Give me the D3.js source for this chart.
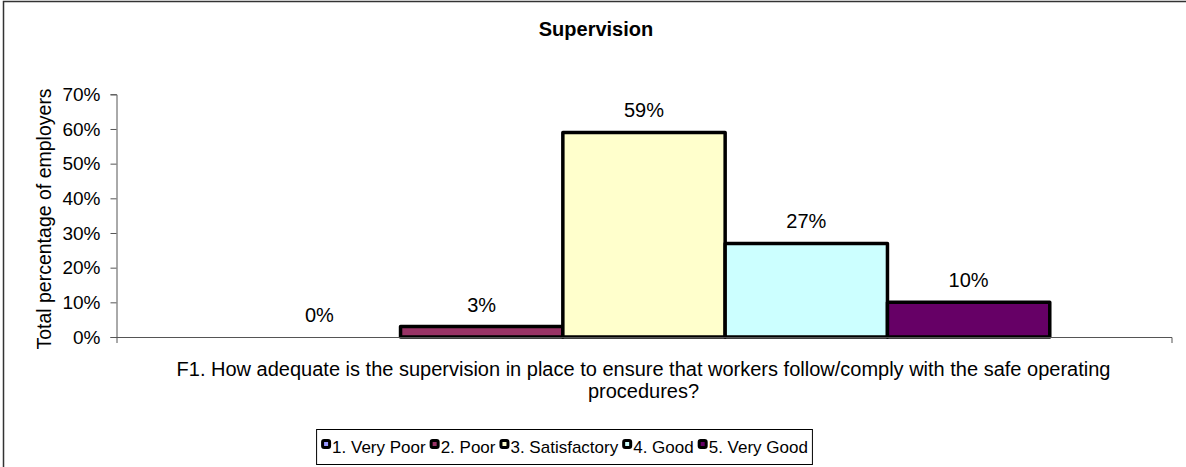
<!DOCTYPE html>
<html>
<head>
<meta charset="utf-8">
<script src="https://cdn.jsdelivr.net/npm/d3@7"></script>
<style>
  body { margin: 0; background: #fff; }
  text { font-family: Arial, "Liberation Sans", sans-serif; fill: #000; }
</style>
</head>
<body>
<div id="chart"></div>
<script>
const title = 'Supervision';
const question = ['F1. How adequate is the supervision in place to ensure that workers follow/comply with the safe operating', 'procedures?'];
const ratings = ['1. Very Poor', '2. Poor', '3. Satisfactory', '4. Good', '5. Very Good'];
const values = [0, 0.03, 0.59, 0.27, 0.10];
const colors = ['#9999ff', '#993366', '#ffffcc', '#ccffff', '#660066'];
const yTicks = [0, 0.1, 0.2, 0.3, 0.4, 0.5, 0.6, 0.7];

const width = 1186, height = 467;
const svg = d3.select('#chart').append('svg')
  .attr('width', width)
  .attr('height', height);

// outer chart border (right/bottom edges fall off the picture)
svg.append('rect')
  .attr('x', 3.5).attr('y', 1.5)
  .attr('width', 1190).attr('height', 480)
  .attr('fill', 'none').attr('stroke', '#333').attr('stroke-width', 1.5);

const plot = {left: 116.5, right: 1171.5, top: 94.3, bottom: 337};

const y = d3.scaleLinear().domain([0, 0.7]).range([plot.bottom, plot.top]);
const x0 = d3.scaleBand().domain(['F1']).range([plot.left, plot.right]);
const x1 = d3.scaleBand().domain(ratings).range([0, x0.bandwidth()]).paddingOuter(0.75);

svg.append('text')
  .attr('x', 596).attr('y', 36)
  .attr('text-anchor', 'middle')
  .style('font-size', '20px').style('font-weight', 'bold')
  .text(title);

// y axis
const yAxis = svg.append('g')
  .attr('transform', `translate(${plot.left},0)`)
  .call(d3.axisLeft(y).tickValues(yTicks).tickFormat(d3.format('.0%')).tickSizeOuter(0).tickSize(6).tickPadding(10));
yAxis.select('.domain').attr('stroke', '#555');
yAxis.selectAll('.tick line').attr('stroke', '#555');
yAxis.selectAll('.tick text')
  .style('font-size', '19px').style('font-family', 'Arial, "Liberation Sans", sans-serif');

svg.append('text')
  .attr('transform', `translate(44,219) rotate(-90)`)
  .attr('text-anchor', 'middle')
  .attr('dy', '0.35em')
  .style('font-size', '19.5px')
  .text('Total percentage of employers');

// bars
const g = svg.append('g').attr('transform', `translate(${x0('F1')},0)`);
g.selectAll('rect.bar')
  .data(values)
  .join('rect')
  .attr('class', 'bar')
  .attr('x', (d, i) => x1(ratings[i]))
  .attr('y', d => y(d))
  .attr('width', x1.bandwidth())
  .attr('height', d => y(0) - y(d))
  .attr('fill', (d, i) => colors[i])
  .attr('stroke', '#000')
  .attr('stroke-width', d => d > 0 ? 3.5 : 0)
  .attr('stroke-linejoin', 'round');

g.selectAll('text.lbl')
  .data(values)
  .join('text')
  .attr('class', 'lbl')
  .attr('x', (d, i) => x1(ratings[i]) + x1.bandwidth() / 2)
  .attr('y', d => y(d) - 15)
  .attr('text-anchor', 'middle')
  .style('font-size', '20px')
  .text(d => d3.format('.0%')(d));

// x axis
const xAxis = svg.append('g')
  .attr('transform', `translate(0,${plot.bottom})`)
  .call(d3.axisBottom(x0).tickValues([]).tickSizeOuter(6));
xAxis.select('.domain').attr('stroke', '#555');

svg.selectAll('text.cat')
  .data(question)
  .join('text')
  .attr('class', 'cat')
  .attr('x', 643.5)
  .attr('y', (d, i) => 376 + i * 22)
  .attr('text-anchor', 'middle')
  .style('font-size', '20px')
  .text(d => d);

// legend
const legend = svg.append('g');
const items = legend.selectAll('g.item')
  .data(ratings)
  .join('g')
  .attr('class', 'item');
items.append('rect')
  .attr('width', 7).attr('height', 7)
  .attr('x', 1.5).attr('y', -12.5)
  .attr('fill', (d, i) => colors[i])
  .attr('stroke', '#000').attr('stroke-width', 3)
  .attr('rx', 1.5);
items.append('text')
  .attr('x', 11)
  .style('font-size', '17px')
  .text(d => d);
let cx = 0;
items.each(function() {
  const w = d3.select(this).select('text').node().getComputedTextLength();
  d3.select(this).attr('transform', `translate(${cx},0)`);
  cx += 11 + w + 4;
});
const total = cx - 4;
const lx = 564.5 - total / 2;
legend.attr('transform', `translate(${lx},453)`);
svg.append('rect')
  .attr('x', lx - 4.5).attr('y', 429.5)
  .attr('width', total + 9).attr('height', 35)
  .attr('fill', 'none').attr('stroke', '#000').attr('stroke-width', 1);
</script>
</body>
</html>
